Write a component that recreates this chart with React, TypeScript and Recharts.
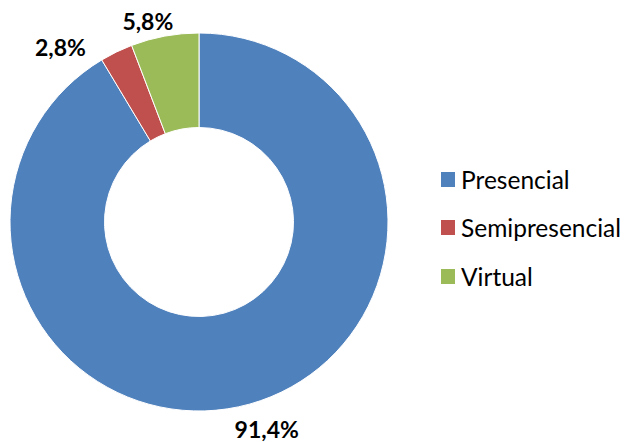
import React from "react";
import { PieChart, Pie, Cell, Legend } from "recharts";

const categories = ["Presencial", "Semipresencial", "Virtual"];
const values = [91.4, 2.8, 5.8];
const valueLabels = ["91,4%", "2,8%", "5,8%"];
const colors = ["#4F81BD", "#C0504D", "#9BBB59"];

const data = categories.map((name, i) => ({ name, value: values[i], label: valueLabels[i] }));

const FONT = "Lato, 'Open Sans', sans-serif";
const RAD = Math.PI / 180;
const nudges = [
  { dx: 13, dy: 9 },
  { dx: -49, dy: 9 },
  { dx: -14, dy: 1 },
];

const renderLabel = (props: any) => {
  const { cx, cy, midAngle, outerRadius, index } = props;
  const r = outerRadius + 16;
  const x = cx + r * Math.cos(-midAngle * RAD) + nudges[index].dx;
  const y = cy + r * Math.sin(-midAngle * RAD) + nudges[index].dy;
  return (
    <text
      x={x}
      y={y}
      textAnchor="middle"
      dominantBaseline="central"
      fill="#000"
      fontFamily={FONT}
      fontWeight="bold"
      fontSize={23}
    >
      {data[index].label}
    </text>
  );
};

const renderLegend = () => (
  <div style={{ fontFamily: FONT, fontSize: 24.5, color: "#000" }}>
    {data.map((d, i) => (
      <div key={d.name} style={{ display: "flex", alignItems: "center", height: 48.5 }}>
        <span style={{ display: "inline-block", width: 14, height: 15, background: colors[i], marginRight: 6, flexShrink: 0 }} />
        <span style={{ whiteSpace: "nowrap" }}>{d.name}</span>
      </div>
    ))}
  </div>
);

export default function App() {
  return (
    <div style={{ position: "absolute", left: 0, top: 0, width: 629, height: 442, background: "#fff" }}>
      <PieChart width={629} height={442} margin={{ top: 0, right: 0, bottom: 0, left: 0 }}>
        <Pie
          data={data}
          dataKey="value"
          nameKey="name"
          cx={199}
          cy={222}
          outerRadius={189}
          innerRadius={94.5}
          startAngle={90}
          endAngle={-270}
          stroke="#fff"
          strokeWidth={1}
          label={renderLabel}
          labelLine={false}
          isAnimationActive={false}
        >
          {data.map((d, i) => (
            <Cell key={d.name} fill={colors[i]} />
          ))}
        </Pie>
        <Legend
          content={renderLegend}
          layout="vertical"
          wrapperStyle={{ position: "absolute", left: 441, top: 155, width: 188 }}
        />
      </PieChart>
    </div>
  );
}
